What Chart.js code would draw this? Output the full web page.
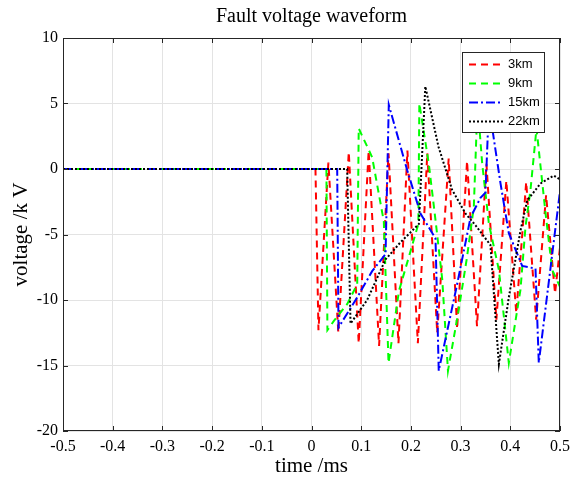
<!DOCTYPE html>
<html><head><meta charset="utf-8">
<script src="https://cdn.jsdelivr.net/npm/chart.js@4/dist/chart.umd.min.js"></script>
<style>html,body{margin:0;padding:0;background:#fff;}</style>
</head><body>
<canvas id="c" width="576" height="482"></canvas>
<script>
// ---- data (time in ms, voltage in kV) ----
const seriesNames = ['3km', '9km', '15km', '22km'];
const seriesColors = ['#ff0000', '#00ff00', '#0000ff', '#000000'];

const t3km = [-0.5, 0.008, 0.014, 0.034, 0.054, 0.075, 0.095, 0.115, 0.136, 0.155, 0.175, 0.193, 0.214, 0.233, 0.253, 0.276, 0.293, 0.313, 0.333, 0.352, 0.372, 0.392, 0.412, 0.432, 0.452, 0.472, 0.49, 0.5];
const v3km = [0, 0, -12.3, 0.5, -12.5, 1.3, -13.3, 1.4, -13.5, 1.2, -13.3, 1.4, -13.3, 1.2, -12.5, 0.8, -12.2, 0.6, -12.0, 0.4, -11.5, -0.9, -11.0, -1.0, -11.5, -2.0, -9.5, -6.0];

const t9km = [-0.5, 0.030, 0.032, 0.045, 0.072, 0.092, 0.095, 0.122, 0.1455, 0.155, 0.176, 0.196, 0.215, 0.217, 0.236, 0.2495, 0.263, 0.2746, 0.2964, 0.313, 0.3266, 0.334, 0.3435, 0.357, 0.377, 0.397, 0.4205, 0.4306, 0.4406, 0.4527, 0.471, 0.4843, 0.5];
const v9km = [0, 0, -12.3, -11.6, -10.3, -8.8, 3.1, 0.9, -4.0, -14.8, -9.3, -6.7, -4.2, 5.0, 0.4, -3.9, -8.4, -15.4, -10.7, -6.7, -2.9, 5.0, 0.4, -4.2, -7.7, -14.8, -9.2, -4.4, -1.6, 3.1, -3.4, -7.7, -9.0];

const t15km = [-0.5, 0.0517, 0.0543, 0.092, 0.122, 0.149, 0.1555, 0.1926, 0.2193, 0.2495, 0.256, 0.293, 0.32, 0.34, 0.35, 0.357, 0.3803, 0.397, 0.424, 0.4507, 0.4573, 0.5];
const v15km = [0, 0, -12.1, -9.8, -7.8, -6.5, 4.9, -0.1, -3.4, -5.3, -15.4, -8.8, -3.7, -2.2, -1.8, 4.8, -1.1, -4.9, -7.4, -7.6, -14.8, -1.7];

const t22km = [-0.5, 0.0718, 0.0785, 0.112, 0.149, 0.179, 0.216, 0.229, 0.2555, 0.283, 0.31, 0.33, 0.36, 0.377, 0.397, 0.4205, 0.434, 0.461, 0.4875, 0.5];
const v22km = [0, 0, -11.8, -10.0, -6.9, -5.6, -4.2, 6.3, 1.7, -1.6, -3.4, -4.3, -5.8, -14.9, -9.8, -4.7, -2.4, -1.1, -0.5, -0.8];

const xTickValues = [-0.5, -0.4, -0.3, -0.2, -0.1, 0, 0.1, 0.2, 0.3, 0.4, 0.5];
const yTickValues = [-20, -15, -10, -5, 0, 5, 10];

// ---- build datasets ----
const seriesTimes = [t3km, t9km, t15km, t22km];
const seriesValues = [v3km, v9km, v15km, v22km];
const dashes = [[7, 5], [7, 5], [9, 3, 2, 3], [2, 2]];
const datasets = seriesNames.map((name, i) => ({
  label: name,
  data: seriesTimes[i].map((t, k) => ({ x: t, y: seriesValues[i][k] })),
  borderColor: seriesColors[i],
  borderWidth: 2,
  borderDash: dashes[i],
  pointRadius: 0,
  tension: 0,
  fill: false,
  order: seriesNames.length - i
}));

const serif = "'Liberation Serif', 'Times New Roman', serif";

const framePlugin = {
  id: 'frame',
  afterDatasetsDraw(chart) {
    const { ctx, chartArea: a, scales: { x, y } } = chart;
    ctx.save();
    ctx.setLineDash([]);
    ctx.strokeStyle = '#262626';
    ctx.lineWidth = 1;
    ctx.strokeRect(Math.round(a.left) + 0.5, Math.round(a.top) + 0.5,
      Math.round(a.right - a.left) - 1, Math.round(a.bottom - a.top) - 1);
    const L = 5;
    ctx.beginPath();
    x.ticks.forEach(t => {
      const px = Math.round(x.getPixelForValue(t.value)) + 0.5;
      ctx.moveTo(px, a.bottom); ctx.lineTo(px, a.bottom - L);
      ctx.moveTo(px, a.top); ctx.lineTo(px, a.top + L);
    });
    y.ticks.forEach(t => {
      const py = Math.round(y.getPixelForValue(t.value)) + 0.5;
      ctx.moveTo(a.left, py); ctx.lineTo(a.left + L, py);
      ctx.moveTo(a.right, py); ctx.lineTo(a.right - L, py);
    });
    ctx.stroke();
    ctx.restore();
  },
  afterDraw(chart) {
    const { ctx, chartArea: a } = chart;
    const bx = a.right - 98, by = a.top + 14, bw = 82, bh = 80;
    ctx.save();
    ctx.fillStyle = '#ffffff';
    ctx.fillRect(bx, by, bw, bh);
    ctx.setLineDash([]);
    ctx.strokeStyle = '#262626';
    ctx.lineWidth = 1;
    ctx.strokeRect(bx + 0.5, by + 0.5, bw, bh);
    ctx.font = "13px 'Liberation Sans', Arial, sans-serif";
    ctx.textBaseline = 'middle';
    ctx.fillStyle = '#000';
    chart.data.datasets.forEach((ds, i) => {
      const yy = by + 12.5 + i * 19;
      ctx.beginPath();
      ctx.strokeStyle = ds.borderColor;
      ctx.lineWidth = ds.borderWidth;
      ctx.setLineDash(ds.borderDash);
      ctx.moveTo(bx + 7, yy); ctx.lineTo(bx + 41, yy);
      ctx.stroke();
      ctx.setLineDash([]);
      ctx.fillText(ds.label, bx + 46, yy);
    });
    ctx.restore();
  }
};

new Chart(document.getElementById('c'), {
  type: 'line',
  data: { datasets },
  plugins: [framePlugin],
  options: {
    responsive: false,
    animation: false,
    devicePixelRatio: 1,
    layout: { padding: { left: 0, right: 15, top: 0, bottom: 0 } },
    plugins: {
      legend: { display: false },
      tooltip: { enabled: false },
      title: {
        display: true,
        text: 'Fault voltage waveform',
        fullSize: false,
        color: '#000',
        font: { family: serif, size: 20, weight: 'normal', lineHeight: 1.2 },
        padding: { top: 5, bottom: 9 }
      }
    },
    scales: {
      x: {
        type: 'linear',
        min: -0.5, max: 0.5,
        afterBuildTicks: s => { s.ticks = xTickValues.map(v => ({ value: v })); },
        afterFit: s => { s.height = 51; },
        ticks: {
          color: '#000',
          font: { family: serif, size: 16 },
          padding: 6,
          maxRotation: 0,
          autoSkip: false,
          callback: v => String(Number(Number(v).toFixed(1)))
        },
        grid: { color: '#e3e3e3', drawTicks: false, lineWidth: 1 },
        border: { display: false },
        title: {
          display: true, text: 'time /ms', color: '#000',
          font: { family: serif, size: 21 }, padding: { top: 0, bottom: 3 }
        }
      },
      y: {
        type: 'linear',
        min: -20, max: 10,
        afterBuildTicks: s => { s.ticks = yTickValues.map(v => ({ value: v })); },
        afterFit: s => { s.width = 63; },
        ticks: {
          color: '#000',
          font: { family: serif, size: 16 },
          padding: 5,
          autoSkip: false,
          callback: v => String(v)
        },
        grid: { color: '#e3e3e3', drawTicks: false, lineWidth: 1 },
        border: { display: false },
        title: {
          display: true, text: 'voltage /k V', color: '#000',
          font: { family: serif, size: 21 }, padding: { top: 9, bottom: 0 }
        }
      }
    }
  }
});
</script>
</body></html>
